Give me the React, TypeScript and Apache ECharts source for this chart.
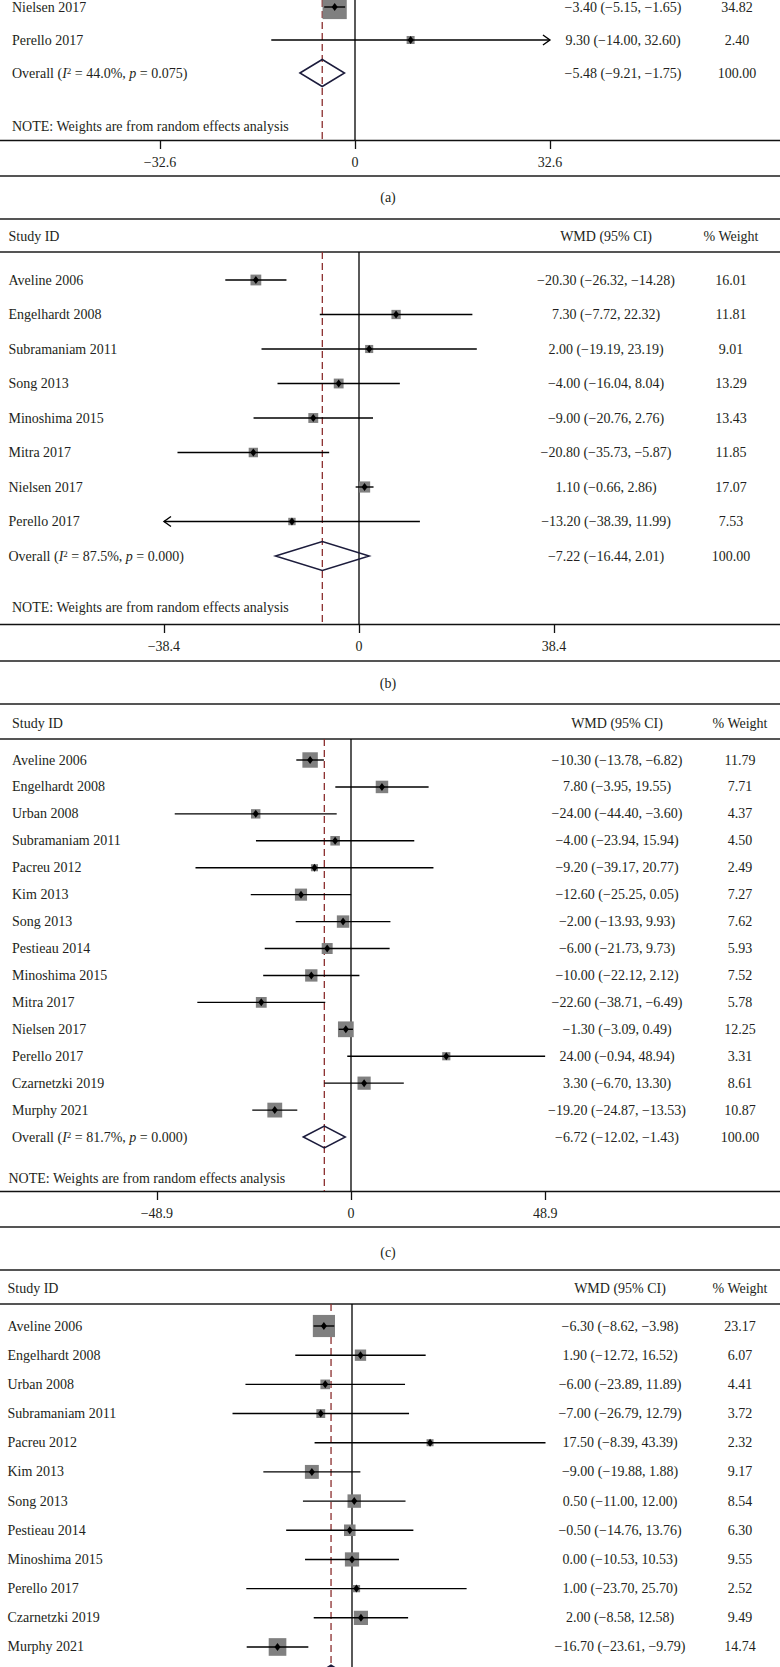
import React, { useEffect, useRef } from "react";
import * as echarts from "echarts";

const W = 780;
const H = 1667;
const FONT = '"Liberation Serif", "Times New Roman", serif';
const TEXT = "#231f20";
const BOX = "#808080";
const BORDER = "#555555";

// ---------- Panel (a) (visible part) ----------
const aStudies = ["Nielsen 2017", "Perello 2017"];
const aEst = [-3.4, 9.3];
const aLo = [-5.15, -14.0];
const aHi = [-1.65, 32.6];
const aWeight = [34.82, 2.4];
const aArrow = [0, 1];
const aOverall = [-5.48, -9.21, -1.75];
const aI2 = "44.0%";
const aP = "0.075";
const aTicks = [-32.6, 0, 32.6];

// ---------- Panel (b) ----------
const bStudies = ["Aveline 2006", "Engelhardt 2008", "Subramaniam 2011", "Song 2013", "Minoshima 2015", "Mitra 2017", "Nielsen 2017", "Perello 2017"];
const bEst = [-20.3, 7.3, 2.0, -4.0, -9.0, -20.8, 1.1, -13.2];
const bLo = [-26.32, -7.72, -19.19, -16.04, -20.76, -35.73, -0.66, -38.39];
const bHi = [-14.28, 22.32, 23.19, 8.04, 2.76, -5.87, 2.86, 11.99];
const bWeight = [16.01, 11.81, 9.01, 13.29, 13.43, 11.85, 17.07, 7.53];
const bArrow = [0, 0, 0, 0, 0, 0, 0, -1];
const bOverall = [-7.22, -16.44, 2.01];
const bI2 = "87.5%";
const bP = "0.000";
const bTicks = [-38.4, 0, 38.4];

// ---------- Panel (c) ----------
const cStudies = ["Aveline 2006", "Engelhardt 2008", "Urban 2008", "Subramaniam 2011", "Pacreu 2012", "Kim 2013", "Song 2013", "Pestieau 2014", "Minoshima 2015", "Mitra 2017", "Nielsen 2017", "Perello 2017", "Czarnetzki 2019", "Murphy 2021"];
const cEst = [-10.3, 7.8, -24.0, -4.0, -9.2, -12.6, -2.0, -6.0, -10.0, -22.6, -1.3, 24.0, 3.3, -19.2];
const cLo = [-13.78, -3.95, -44.4, -23.94, -39.17, -25.25, -13.93, -21.73, -22.12, -38.71, -3.09, -0.94, -6.7, -24.87];
const cHi = [-6.82, 19.55, -3.6, 15.94, 20.77, 0.05, 9.93, 9.73, 2.12, -6.49, 0.49, 48.94, 13.3, -13.53];
const cWeight = [11.79, 7.71, 4.37, 4.5, 2.49, 7.27, 7.62, 5.93, 7.52, 5.78, 12.25, 3.31, 8.61, 10.87];
const cArrow = [0, 0, 0, 0, 0, 0, 0, 0, 0, 0, 0, 0, 0, 0];
const cOverall = [-6.72, -12.02, -1.43];
const cI2 = "81.7%";
const cP = "0.000";
const cTicks = [-48.9, 0, 48.9];

// ---------- Panel (d) (visible part) ----------
const dStudies = ["Aveline 2006", "Engelhardt 2008", "Urban 2008", "Subramaniam 2011", "Pacreu 2012", "Kim 2013", "Song 2013", "Pestieau 2014", "Minoshima 2015", "Perello 2017", "Czarnetzki 2019", "Murphy 2021"];
const dEst = [-6.3, 1.9, -6.0, -7.0, 17.5, -9.0, 0.5, -0.5, 0.0, 1.0, 2.0, -16.7];
const dLo = [-8.62, -12.72, -23.89, -26.79, -8.39, -19.88, -11.0, -14.76, -10.53, -23.7, -8.58, -23.61];
const dHi = [-3.98, 16.52, 11.89, 12.79, 43.39, 1.88, 12.0, 13.76, 10.53, 25.7, 12.58, -9.79];
const dWeight = [23.17, 6.07, 4.41, 3.72, 2.32, 9.17, 8.54, 6.3, 9.55, 2.52, 9.49, 14.74];
const dArrow = [0, 0, 0, 0, 0, 0, 0, 0, 0, 0, 0, 0];
const dOverall = [-4.7, -8.6, -0.8];
const dTicks = [-43.4, 0, 43.4];

const NOTE = "NOTE: Weights are from random effects analysis";

type PanelData = {
  studies: string[]; est: number[]; lo: number[]; hi: number[]; weight: number[]; arrow: number[];
  overall: number[]; i2: string | null; p: string | null; ticks: number[];
};

type Layout = {
  zeroX: number; ppu: number; gridTop: number; axisY: number; rowY0: number; step: number;
  labelX: number; wmdX: number; wX: number; k: number; minBox: number; dH: number;
  topY: number | null; headY: number | null; noteY: number | null; noteX: number;
  bottomY: number | null; captionY: number | null; caption: string; showAxis: boolean;
};

const panelsData: PanelData[] = [
  { studies: aStudies, est: aEst, lo: aLo, hi: aHi, weight: aWeight, arrow: aArrow, overall: aOverall, i2: aI2, p: aP, ticks: aTicks },
  { studies: bStudies, est: bEst, lo: bLo, hi: bHi, weight: bWeight, arrow: bArrow, overall: bOverall, i2: bI2, p: bP, ticks: bTicks },
  { studies: cStudies, est: cEst, lo: cLo, hi: cHi, weight: cWeight, arrow: cArrow, overall: cOverall, i2: cI2, p: cP, ticks: cTicks },
  { studies: dStudies, est: dEst, lo: dLo, hi: dHi, weight: dWeight, arrow: dArrow, overall: dOverall, i2: null, p: null, ticks: dTicks },
];

const layouts: Layout[] = [
  { zeroX: 355, ppu: 5.98, gridTop: 0, axisY: 140, rowY0: 7, step: 33, labelX: 12, wmdX: 623, wX: 737, k: 4.1, minBox: 8, dH: 27, topY: null, headY: null, noteY: 126, noteX: 12, bottomY: 176, captionY: 197, caption: "(a)", showAxis: true },
  { zeroX: 359, ppu: 5.08, gridTop: 252, axisY: 624, rowY0: 280, step: 34.5, labelX: 8.5, wmdX: 606, wX: 731, k: 2.7, minBox: 7, dH: 29, topY: 219, headY: 236, noteY: 607, noteX: 12, bottomY: 661, captionY: 683, caption: "(b)", showAxis: true },
  { zeroX: 351, ppu: 3.97, gridTop: 739, axisY: 1191, rowY0: 760, step: 26.93, labelX: 12, wmdX: 617, wX: 740, k: 4.5, minBox: 7, dH: 22, topY: 704, headY: 723, noteY: 1178, noteX: 8.5, bottomY: 1227, captionY: 1252, caption: "(c)", showAxis: true },
  { zeroX: 352, ppu: 4.46, gridTop: 1304, axisY: 1735, rowY0: 1326, step: 29.18, labelX: 7.5, wmdX: 620, wX: 740, k: 4.6, minBox: 6.5, dH: 22, topY: 1270, headY: 1288, noteY: null, noteX: 8, bottomY: null, captionY: null, caption: "", showAxis: false },
];

const fmt = (v: number) => (v < 0 ? "\u2212" : "") + Math.abs(v).toFixed(2);
const tickFmt = (v: number) => (v < 0 ? "\u2212" + String(Math.abs(v)) : String(v));

function txt(text: string, x: number, y: number, align: string, extra: any = {}) {
  return {
    type: "text",
    x,
    y,
    silent: true,
    style: {
      text,
      fill: TEXT,
      fontSize: 14,
      fontFamily: FONT,
      align,
      verticalAlign: "middle",
      textAlign: align,
      textVerticalAlign: "middle",
      ...extra,
    },
  };
}

function line(x1: number, y1: number, x2: number, y2: number, stroke: string, lineWidth: number, dash?: number[]) {
  return {
    type: "line",
    silent: true,
    shape: { x1, y1, x2, y2 },
    style: { stroke, lineWidth, lineDash: dash || null },
  };
}

function buildOption() {
  const grids: any[] = [];
  const xAxes: any[] = [];
  const yAxes: any[] = [];
  const series: any[] = [];
  const graphics: any[] = [];

  panelsData.forEach((D, g) => {
    const L = layouts[g];
    const yMin = (L.gridTop - L.rowY0) / L.step;
    const yMax = (L.axisY - L.rowY0) / L.step;
    const lim = D.ticks[D.ticks.length - 1];
    const overallRow = D.studies.length;

    grids.push({ left: 0, width: W, top: L.gridTop, height: L.axisY - L.gridTop, containLabel: false, outerBoundsMode: "none" });
    xAxes.push({
      type: "value",
      gridIndex: g,
      min: -L.zeroX / L.ppu,
      max: (W - L.zeroX) / L.ppu,
      axisLine: { show: L.showAxis, onZero: false, lineStyle: { color: "#111", width: 1.3 } },
      axisTick: { show: L.showAxis, customValues: D.ticks, length: 9, lineStyle: { color: "#111", width: 1.3 } },
      axisLabel: { show: L.showAxis, customValues: D.ticks, formatter: tickFmt, margin: 15, fontSize: 14, fontFamily: FONT, color: TEXT },
      splitLine: { show: false },
    });
    yAxes.push({ type: "value", gridIndex: g, inverse: true, min: yMin, max: yMax, show: false });

    // reference lines (zero and overall estimate)
    series.push({
      type: "custom",
      xAxisIndex: g,
      yAxisIndex: g,
      silent: true,
      z: 1,
      data: [[D.overall[0]]],
      renderItem: (params: any, api: any) => {
        const ov = api.value(0);
        const z0 = api.coord([0, yMin]);
        const z1 = api.coord([0, yMax]);
        const o0 = api.coord([ov, yMin]);
        const o1 = api.coord([ov, yMax]);
        return {
          type: "group",
          children: [
            line(z0[0], z0[1], z1[0], z1[1], "#000", 1.3),
            line(o0[0], o0[1], o1[0], o1[1], "#8b2e2e", 1.3, [7, 4]),
          ],
        };
      },
    });

    // studies
    series.push({
      type: "custom",
      xAxisIndex: g,
      yAxisIndex: g,
      silent: true,
      z: 2,
      data: D.studies.map((_, i) => [D.est[i], D.lo[i], D.hi[i], D.weight[i], i, D.arrow[i]]),
      renderItem: (params: any, api: any) => {
        const i = params.dataIndex;
        const est = api.value(0);
        const lo = Math.max(api.value(1), -lim);
        const hi = Math.min(api.value(2), lim);
        const w = api.value(3);
        const row = api.value(4);
        const arrow = api.value(5);
        const pE = api.coord([est, row]);
        const pLo = api.coord([lo, row]);
        const pHi = api.coord([hi, row]);
        const y = pE[1];
        const s = Math.max(L.minBox, L.k * Math.sqrt(w));
        const children: any[] = [
          { type: "rect", shape: { x: pE[0] - s / 2, y: y - s / 2, width: s, height: s }, style: { fill: BOX } },
          line(pLo[0], y, pHi[0], y, "#000", 1.4),
          {
            type: "polygon",
            shape: { points: [[pE[0] - 3, y], [pE[0], y - 4], [pE[0] + 3, y], [pE[0], y + 4]] },
            style: { fill: "#000" },
          },
        ];
        if (arrow === 1) {
          children.push({ type: "polyline", shape: { points: [[pHi[0] - 7, y - 5], [pHi[0], y], [pHi[0] - 7, y + 5]] }, style: { stroke: "#000", lineWidth: 1.4, fill: null } });
        } else if (arrow === -1) {
          children.push({ type: "polyline", shape: { points: [[pLo[0] + 7, y - 5], [pLo[0], y], [pLo[0] + 7, y + 5]] }, style: { stroke: "#000", lineWidth: 1.4, fill: null } });
        }
        children.push(txt(D.studies[i], L.labelX, y, "left"));
        children.push(txt(`${fmt(D.est[i])} (${fmt(D.lo[i])}, ${fmt(D.hi[i])})`, L.wmdX, y, "center"));
        children.push(txt(D.weight[i].toFixed(2), L.wX, y, "center"));
        return { type: "group", children };
      },
    });

    // overall diamond
    series.push({
      type: "custom",
      xAxisIndex: g,
      yAxisIndex: g,
      silent: true,
      z: 3,
      data: [[D.overall[0], D.overall[1], D.overall[2], overallRow]],
      renderItem: (params: any, api: any) => {
        const row = api.value(3);
        const pE = api.coord([api.value(0), row]);
        const pLo = api.coord([api.value(1), row]);
        const pHi = api.coord([api.value(2), row]);
        const y = pE[1];
        const h = L.dH / 2;
        const children: any[] = [
          {
            type: "polygon",
            shape: { points: [[pLo[0], y], [pE[0], y - h], [pHi[0], y], [pE[0], y + h]] },
            style: { stroke: "#1c1c3c", lineWidth: 1.5, fill: null },
          },
        ];
        if (D.i2 !== null) {
          children.push(
            txt(`Overall ({it|I}{sup|2} = ${D.i2}, {it|p} = ${D.p})`, L.labelX, y, "left", {
              rich: {
                it: { fontStyle: "italic", fontSize: 14, fontFamily: FONT, fill: TEXT },
                sup: { fontSize: 9, fontFamily: FONT, fill: TEXT, verticalAlign: "top" },
              },
            })
          );
          children.push(txt(`${fmt(D.overall[0])} (${fmt(D.overall[1])}, ${fmt(D.overall[2])})`, L.wmdX, y, "center"));
          children.push(txt("100.00", L.wX, y, "center"));
        }
        return { type: "group", children };
      },
    });

    // frame lines and static texts
    if (L.topY !== null) graphics.push(line(0, L.topY, W, L.topY, BORDER, 2));
    if (L.headY !== null) {
      graphics.push(line(0, L.gridTop, W, L.gridTop, BORDER, 2));
      graphics.push(txt("Study ID", L.labelX, L.headY, "left"));
      graphics.push(txt("WMD (95% CI)", L.wmdX, L.headY, "center"));
      graphics.push(txt("% Weight", L.wX, L.headY, "center"));
    }
    if (L.noteY !== null) graphics.push(txt(NOTE, L.noteX, L.noteY, "left"));
    if (L.bottomY !== null) graphics.push(line(0, L.bottomY, W, L.bottomY, BORDER, 2));
    if (L.captionY !== null) graphics.push(txt(L.caption, 388, L.captionY, "center"));
  });

  return {
    animation: false,
    backgroundColor: "#ffffff",
    grid: grids,
    xAxis: xAxes,
    yAxis: yAxes,
    series,
    graphic: { elements: graphics },
  };
}

export default function App() {
  const ref = useRef<HTMLDivElement>(null);
  useEffect(() => {
    document.body.style.margin = "0";
    if (!ref.current) return;
    const chart = echarts.init(ref.current, undefined, { renderer: "svg" });
    chart.setOption(buildOption() as any);
    return () => chart.dispose();
  }, []);
  return <div ref={ref} style={{ position: "absolute", left: 0, top: 0, width: W, height: H, background: "#fff" }} />;
}
